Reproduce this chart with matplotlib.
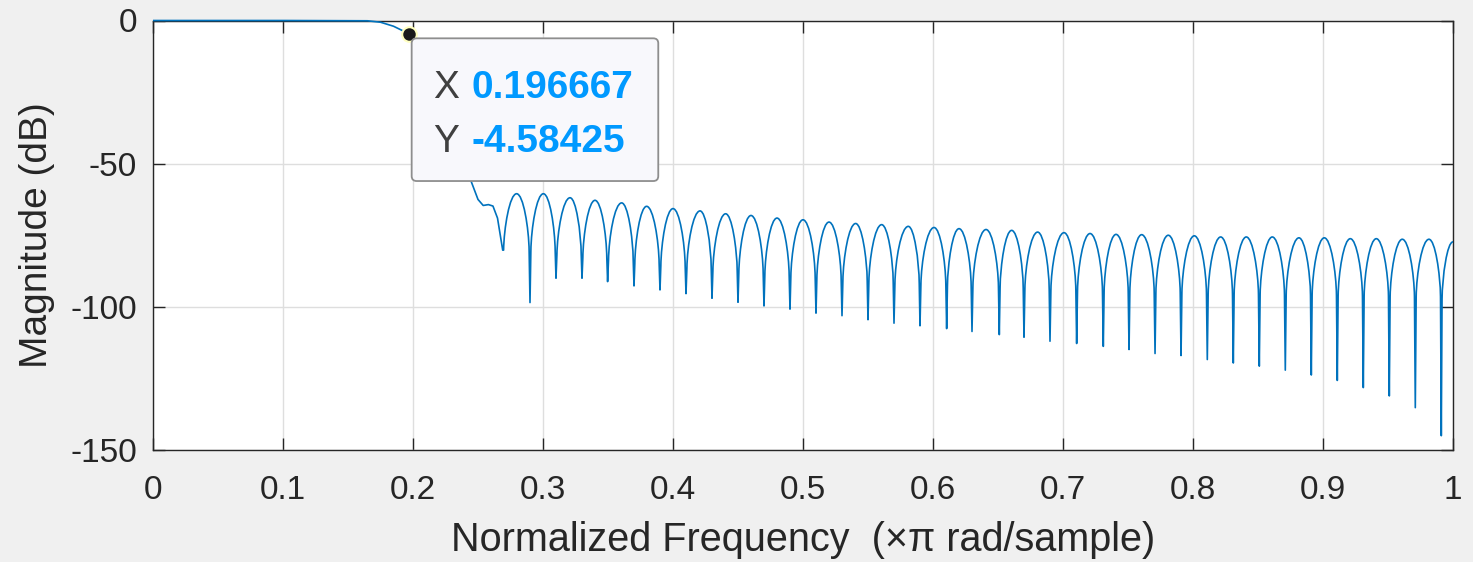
import matplotlib
matplotlib.use("Agg")
import matplotlib.pyplot as plt
import matplotlib.transforms as mtransforms
from matplotlib.path import Path
from matplotlib.patches import PathPatch, FancyBboxPatch

plt.rcParams['font.family'] = ['Liberation Sans', 'DejaVu Sans']
plt.rcParams['axes.unicode_minus'] = False

# ---------------- data ----------------
# passband and transition band (normalized frequency, dB)
trans_x = [0.0, 0.10, 0.165, 0.175, 0.185, 0.196667, 0.21, 0.225, 0.24, 0.245,
           0.250, 0.254, 0.258, 0.2615, 0.265]
trans_y = [0.0, 0.0, -0.1, -0.6, -2.0, -4.58425, -14.0, -30.0, -49.0, -56.5,
           -62.5, -64.6, -64.3, -64.8, -69.0]

# stopband nulls
null_x = [0.269, 0.290, 0.310, 0.330, 0.3497, 0.370, 0.390, 0.410, 0.430, 0.450,
          0.470, 0.490, 0.510, 0.530, 0.550, 0.570, 0.590, 0.6105, 0.630, 0.651,
          0.670, 0.690, 0.7105, 0.731, 0.7508, 0.7708, 0.7908, 0.811, 0.831, 0.851,
          0.871, 0.891, 0.911, 0.931, 0.951, 0.971, 0.991]
null_y = [-80.2, -98.5, -90.0, -90.0, -91.2, -92.7, -94.1, -95.4, -97.0, -98.4,
          -99.7, -100.8, -102.2, -103.1, -104.5, -105.7, -106.6, -107.6, -108.6, -109.7,
          -110.6, -112.0, -112.8, -113.8, -114.9, -116.3, -117.0, -118.4, -119.6, -120.7,
          -122.1, -123.8, -125.7, -128.2, -131.1, -135.2, -145.0]

# stopband lobe peaks (the last one is the end point at Nyquist)
peak_x = [0.2797, 0.3003, 0.3208, 0.340, 0.3605, 0.3797, 0.400, 0.4208, 0.4405, 0.460,
          0.480, 0.500, 0.520, 0.5405, 0.5605, 0.581, 0.6008, 0.620, 0.6408, 0.6605,
          0.6805, 0.7008, 0.7208, 0.7408, 0.7605, 0.781, 0.801, 0.8213, 0.841, 0.861,
          0.8815, 0.901, 0.921, 0.941, 0.961, 0.9815, 1.0]
peak_y = [-60.5, -60.5, -61.9, -62.8, -63.7, -64.9, -65.7, -66.5, -67.5, -68.1,
          -69.0, -69.6, -70.4, -70.9, -71.3, -71.9, -72.3, -72.7, -73.0, -73.3,
          -73.9, -74.1, -74.4, -74.7, -74.8, -75.0, -75.2, -75.6, -75.6, -75.6,
          -75.9, -75.9, -76.2, -76.2, -76.4, -76.4, -77.3]

xtick_vals = [0.0, 0.1, 0.2, 0.3, 0.4, 0.5, 0.6, 0.7, 0.8, 0.9, 1.0]
xtick_labels = ['0', '0.1', '0.2', '0.3', '0.4', '0.5', '0.6', '0.7', '0.8', '0.9', '1']
ytick_vals = [-150, -100, -50, 0]
ytick_labels = ['-150', '-100', '-50', '0']

tip_x = 0.196667
tip_y = -4.58425
tip_x_text = '0.196667'
tip_y_text = '-4.58425'

# ---------------- figure ----------------
W, H = 1473, 562
fig = plt.figure(figsize=(W / 100, H / 100), dpi=100, facecolor='#f0f0f0')
ax = fig.add_axes([153 / W, 1 - 450 / H, 1300 / W, 429.5 / H])
ax.set_facecolor('white')
ax.set_xlim(0, 1)
ax.set_ylim(-150, 0)

axcol = '#262626'
for s in ax.spines.values():
    s.set_color(axcol)
    s.set_linewidth(1.0)
ax.set_xticks(xtick_vals)
ax.set_xticklabels(xtick_labels)
ax.set_yticks(ytick_vals)
ax.set_yticklabels(ytick_labels)
ax.tick_params(axis='both', direction='in', length=8.5, width=1.0, color=axcol,
               labelcolor=axcol, labelsize=24, top=True, right=True)
ax.tick_params(axis='x', pad=18)
ax.tick_params(axis='y', pad=11.5)
ax.grid(True, color='#dedede', linewidth=1.0)
ax.set_axisbelow(True)


def side(verts, codes, x_null, y_null, x_peak, y_peak):
    """Append one flank of a side lobe, drawn from its null to its peak
    (or reversed if x_null > x_peak)."""
    d = x_peak - x_null
    y_knee = min(y_peak - 20.0, max(y_null, y_peak - 20.0))
    y_knee = max(y_knee, y_null)
    k = (x_null + 0.064 * d, y_knee)
    c1 = (x_null + 0.09 * d, y_peak - 12.0)
    c2 = (x_null + 0.5 * d, y_peak)
    return k, c1, c2


# magnitude response path
verts = [(trans_x[0], trans_y[0])]
codes = [Path.MOVETO]
for x, y in zip(trans_x[1:], trans_y[1:]):
    verts.append((x, y)); codes.append(Path.LINETO)
verts.append((null_x[0], null_y[0])); codes.append(Path.LINETO)
for i in range(len(null_x)):
    xn, yn = null_x[i], null_y[i]
    xp, yp = peak_x[i], peak_y[i]
    # rising flank: null -> knee -> peak
    k, c1, c2 = side(verts, codes, xn, yn, xp, yp)
    verts += [k, c1, c2, (xp, yp)]
    codes += [Path.LINETO, Path.CURVE4, Path.CURVE4, Path.CURVE4]
    if i + 1 < len(null_x):
        xn2, yn2 = null_x[i + 1], null_y[i + 1]
        k, c1, c2 = side(verts, codes, xn2, yn2, xp, yp)
        verts += [c2, c1, k, (xn2, yn2)]
        codes += [Path.CURVE4, Path.CURVE4, Path.CURVE4, Path.LINETO]
path = Path(verts, codes)
ax.add_patch(PathPatch(path, facecolor='none', edgecolor='#0072BD', linewidth=1.2,
                       zorder=3, clip_on=False, joinstyle='round'))

# data tip marker
ax.plot([tip_x], [tip_y], 'o', markersize=10.5, markerfacecolor='#1a1a1a',
        markeredgecolor='#ffffc0', markeredgewidth=1.5, zorder=6, clip_on=False)

# data tip box placed relative to the marker's display position
px, py = ax.transData.transform((tip_x, tip_y))
ident = mtransforms.IdentityTransform()
box = FancyBboxPatch((px + 3, py - 147.4), 246.6, 142.7,
                     boxstyle='round,pad=0,rounding_size=5',
                     facecolor='#f8f8fc', edgecolor='#8e8e8e', linewidth=1.3,
                     transform=ident, zorder=7, clip_on=False)
fig.add_artist(box)
fs_tip = 28
fig.text(px + 24.3, py - 64.4, 'X', transform=ident, fontsize=fs_tip, color='#404040',
         va='baseline', ha='left', zorder=8)
fig.text(px + 63, py - 64.4, tip_x_text, transform=ident, fontsize=fs_tip,
         color='#0099FF', fontweight='bold', va='baseline', ha='left', zorder=8)
fig.text(px + 24.3, py - 118.7, 'Y', transform=ident, fontsize=fs_tip, color='#404040',
         va='baseline', ha='left', zorder=8)
fig.text(px + 63, py - 118.7, tip_y_text, transform=ident, fontsize=fs_tip,
         color='#0099FF', fontweight='bold', va='baseline', ha='left', zorder=8)

# labels
ax.set_xlabel('Normalized Frequency  (\u00d7\u03c0 rad/sample)', fontsize=28.5, color=axcol)
ax.xaxis.label.set_va('baseline')
ax.xaxis.set_label_coords(0.5, -(551 - 450) / 429.5)
ax.set_ylabel('Magnitude (dB)', fontsize=28, color=axcol)
ax.yaxis.label.set_va('center')
ax.yaxis.set_label_coords((37.5 - 153) / 1300, 0.5)

fig.savefig('out.png', dpi=100, facecolor=fig.get_facecolor())
